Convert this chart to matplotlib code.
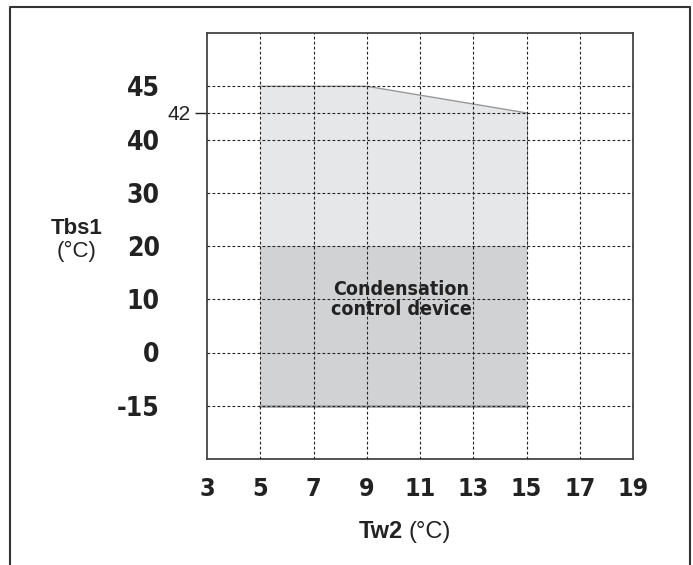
import numpy as np
import matplotlib.pyplot as plt
from matplotlib.lines import Line2D

# data
x_ticks = [3, 5, 7, 9, 11, 13, 15, 17, 19]
y_levels = [-15, 0, 10, 20, 30, 40, 45]
y_extra = 42

# operating envelope (Tw2, Tbs1)
upper_x = [5, 15, 15, 9, 5]
upper_y = [20, 20, 42, 45, 45]
lower_x = [5, 15, 15, 5]
lower_y = [-15, -15, 20, 20]

# non-linear Tbs1 axis: each labelled value sits one step apart
knot_vals = [-15, 0, 10, 20, 30, 40, 42, 45]
knot_pos = [1, 2, 3, 4, 5, 6, 6.5, 7]


def ymap(v):
    return np.interp(v, knot_vals, knot_pos)


plain = ['Liberation Sans', 'DejaVu Sans']
cond = dict(fontfamily=['DejaVu Sans'], fontstretch='condensed', fontweight='bold')

fig = plt.figure(figsize=(6.93, 5.65), dpi=100)
ax = fig.add_axes([207 / 693, 106 / 565, 426 / 693, 426 / 565])

ax.fill(lower_x, ymap(lower_y), color='#d1d2d4', lw=0, zorder=1)
ax.plot([5, 15], ymap([-15, -15]), color='#a8a8a8', lw=2, zorder=2)
ax.fill(upper_x, ymap(upper_y), color='#e6e7e8', lw=0, zorder=1)
ax.plot([15, 9, 5], ymap([42, 45, 45]), color='#999999', lw=1, zorder=2)
ax.plot([15, 15], ymap([20, 42]), color='#999999', lw=0.8, zorder=2)

ax.set_xlim(3, 19)
ax.set_ylim(0, 8)

# grid
for xv in x_ticks[1:-1]:
    ax.axvline(xv, color='#222222', lw=0.8, ls=(0, (2.5, 2)), zorder=3)
for yv in y_levels + [y_extra]:
    ax.axhline(ymap(yv), color='#222222', lw=0.8, ls=(0, (2.5, 2)), zorder=3)

ax.set_xticks(x_ticks)
ax.set_xticklabels([str(v) for v in x_ticks], fontsize=18,
                   color='#222222', **cond)
ax.set_yticks(ymap(y_levels))
ax.set_yticklabels([str(v) for v in y_levels], fontsize=19,
                   color='#222222', verticalalignment='center_baseline', **cond)
ax.tick_params(axis='x', length=0, pad=13)
ax.tick_params(axis='y', which='major', length=0, pad=34)
ax.set_yticks([ymap(y_extra)], minor=True)
ax.set_yticklabels([str(y_extra)], minor=True, fontfamily=plain,
                   fontsize=15, color='#222222')
ax.tick_params(axis='y', which='minor', length=9, width=1, pad=3,
               color='#222222')

for sp in ax.spines.values():
    sp.set_color('#444444')
    sp.set_linewidth(1.3)

ax.text(10.3, ymap(10), 'Condensation\ncontrol device', ha='center',
        va='center', fontsize=14, linespacing=1.05, color='#222222',
        zorder=4, **cond)

# axis titles
fig.text(77 / 693, 1 - 228 / 565, 'Tbs1', ha='center', va='center',
         fontfamily=plain, fontweight='bold', fontsize=16, color='#222222')
fig.text(77 / 693, 1 - 251 / 565, '(°C)', ha='center', va='center',
         fontfamily=plain, fontsize=16, color='#222222')
fig.text(403 / 693, 1 - 532 / 565, 'Tw2', ha='right', va='center',
         fontfamily=plain, fontweight='bold', fontsize=17, color='#222222')
fig.text(409 / 693, 1 - 532 / 565, '(°C)', ha='left', va='center',
         fontfamily=plain, fontsize=17, color='#222222')

# outer frame (open at the bottom)
fx = [10 / 693, 10 / 693, 690 / 693, 690 / 693]
fy = [0, 1 - 7 / 565, 1 - 7 / 565, 0]
fig.add_artist(Line2D(fx, fy, transform=fig.transFigure, color='#333333', lw=1.5))

fig.savefig('out.png', dpi=100)
